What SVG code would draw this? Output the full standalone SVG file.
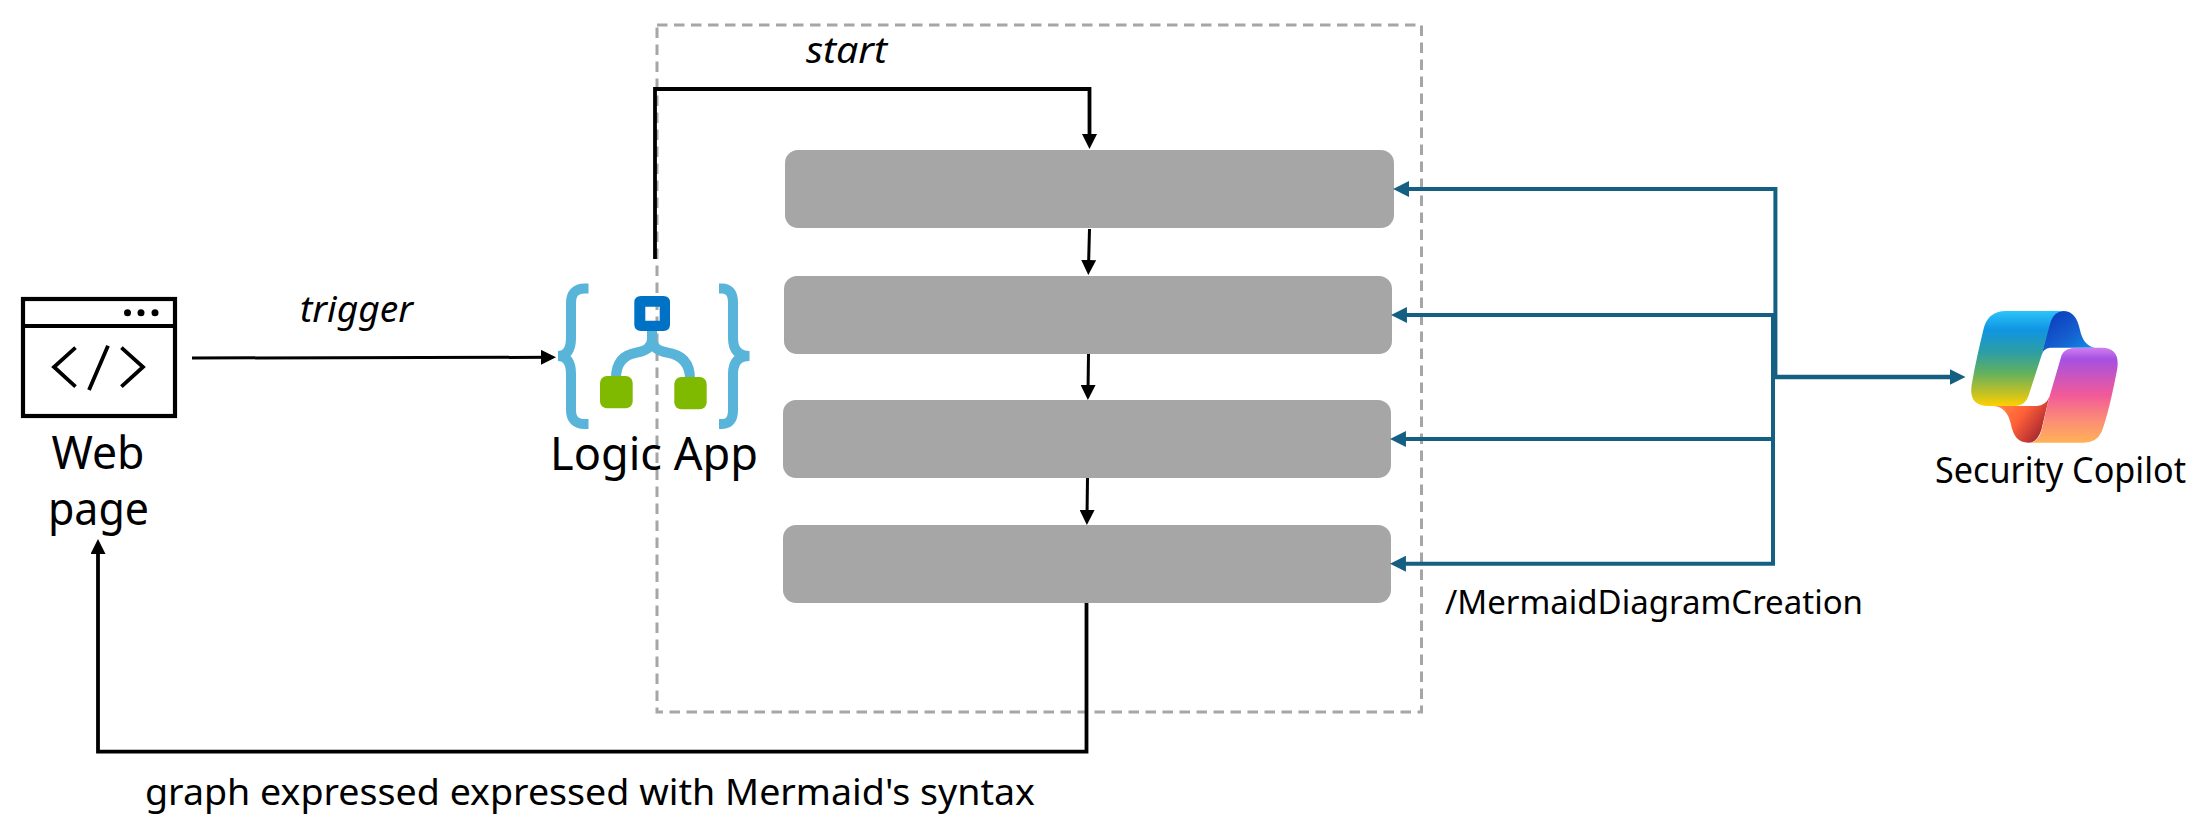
<svg xmlns="http://www.w3.org/2000/svg" width="2204" height="838" viewBox="0 0 2204 838">
<style>
text{font-family:"Noto Sans","Open Sans","Liberation Sans",sans-serif;fill:#000}
.em{font-style:italic}
.step{fill:#a6a6a6}
.frame{fill:none;stroke:#a6a6a6;stroke-width:3;stroke-dasharray:10.500 6.500}
.k{fill:none;stroke:#000}
.b{fill:none;stroke:#156082;stroke-width:4}
.brace{fill:none;stroke:#59b4d9;stroke-width:10}
</style>
<defs>
<marker id="ak" viewBox="0 0 15 15" refX="7" refY="7.5" markerWidth="15" markerHeight="15" markerUnits="userSpaceOnUse" orient="auto"><path d="M0 0L15 7.5L0 15Z" fill="#000"/></marker>
<marker id="ab" viewBox="0 0 15 15" refX="7" refY="7.5" markerWidth="16" markerHeight="16" markerUnits="userSpaceOnUse" orient="auto"><path d="M0 0L15 7.5L0 15Z" fill="#156082"/></marker>
<linearGradient id="gA" x1="0" y1="0" x2="0" y2="1"><stop offset="0" stop-color="#2cc4fa"/><stop offset=".2" stop-color="#0f94e2"/><stop offset=".45" stop-color="#2f9fa0"/><stop offset=".65" stop-color="#62b060"/><stop offset=".85" stop-color="#bcc028"/><stop offset="1" stop-color="#ffd000"/></linearGradient>
<linearGradient id="gB" x1="0" y1="0" x2="0" y2="1"><stop offset="0" stop-color="#cf7ff0"/><stop offset=".12" stop-color="#a650e2"/><stop offset=".5" stop-color="#f25a98"/><stop offset=".75" stop-color="#fb8a78"/><stop offset="1" stop-color="#ffb257"/></linearGradient>
<linearGradient id="gC" x1="0" y1="0" x2="1" y2="1"><stop offset="0" stop-color="#0a34b8"/><stop offset=".55" stop-color="#1560d0"/><stop offset="1" stop-color="#0c9cf0"/></linearGradient>
<linearGradient id="gD" x1="0" y1="0" x2="1" y2=".6"><stop offset="0" stop-color="#ff9a4a"/><stop offset=".55" stop-color="#ff5f38"/><stop offset="1" stop-color="#a82830"/></linearGradient>
</defs>
<rect width="2204" height="838" fill="#fff"/>

<g id="group-frame"><rect class="frame" x="657" y="25" width="764.500" height="687"/></g>

<g id="web-page">
<rect x="23" y="299" width="152" height="117" fill="none" stroke="#000" stroke-width="4.200"/>
<path d="M23 326H175" stroke="#000" stroke-width="3.800" fill="none"/>
<circle cx="127.500" cy="312.700" r="3.500"/><circle cx="141" cy="312.700" r="3.500"/><circle cx="155" cy="312.700" r="3.500"/>
<path d="M75.500 347.700L54 367L75.500 386.700M108 345.700L89 390M121.400 347.700L143 367L121.400 386.700" fill="none" stroke="#000" stroke-width="3.800"/>
<text x="51.500" y="469" font-size="45" lengthAdjust="spacingAndGlyphs" textLength="93">Web</text>
<text x="48" y="525" font-size="45" lengthAdjust="spacingAndGlyphs" textLength="101">page</text>
</g>

<g id="logic-app">
<path class="brace" d="M588.500 288.500H585Q571 288.500 571 303V338Q571 356 558 356Q571 356 571 374V410Q571 424 585 424H588.500"/>
<path class="brace" d="M719 288.500H722Q733 288.500 733 303V338Q733 356 749.500 356Q733 356 733 374V410Q733 424 722 424H719"/>
<path d="M652 328V339Q652 350 637 352.500Q616 356 616 378M652 339Q652 350 667 352.500Q690 356 690 379" fill="none" stroke="#59b4d9" stroke-width="10"/>
<path fill-rule="evenodd" fill="#0072c6" d="M641 296H663.500Q670 296 670 302.500V324.500Q670 331 663.500 331H641Q634.300 331 634.300 324.500V302.500Q634.300 296 641 296ZM645.300 306.700V320.700H659.700V306.700Z"/>
<rect x="600" y="376" width="32.700" height="32.300" rx="7" fill="#7fba00"/>
<rect x="674.300" y="377" width="32.400" height="32.300" rx="7" fill="#7fba00"/>
<text x="550" y="470" font-size="45" lengthAdjust="spacingAndGlyphs" textLength="208">Logic App</text>
</g>

<g id="step-1"><rect class="step" x="785" y="150" width="609" height="78" rx="13"/></g>
<g id="step-2"><rect class="step" x="784" y="276" width="608" height="78" rx="13"/></g>
<g id="step-3"><rect class="step" x="783" y="400" width="608" height="78" rx="13"/></g>
<g id="step-4"><rect class="step" x="783" y="525" width="608" height="78" rx="13"/></g>

<g id="security-copilot">
<g transform="translate(1900 280) scale(.33333)">
<path fill="url(#gC)" d="M488 93C520 93 532 115 540 150C546 178 560 200 585 203L450 203Q430 205 425 225L450 115Q460 93 488 93Z"/>
<path fill="url(#gD)" d="M280 378L410 378Q438 376 448 350L424 450Q412 488 385 488C355 488 340 470 332 430C325 400 310 380 280 378Z"/>
<path fill="url(#gA)" d="M318 93L490 93Q462 95 452 125L425 225L388 340Q378 378 345 378L265 378Q205 378 215 315C225 255 238 200 250 150Q262 93 318 93Z"/>
<path fill="url(#gB)" d="M530 203L605 203Q660 203 652 265C640 330 620 420 605 455Q590 488 550 488L385 488Q415 488 425 450L447 355L485 225Q495 203 530 203Z"/>
</g>
<text x="1935" y="483" font-size="37" lengthAdjust="spacingAndGlyphs" textLength="251">Security Copilot</text>
</g>

<g id="connectors">
<path class="k" stroke-width="3.800" d="M655 259V89H1089.500V141" marker-end="url(#ak)"/>
<path class="k" stroke-width="3" d="M1089.500 229L1088.500 267" marker-end="url(#ak)"/>
<path class="k" stroke-width="3" d="M1088.500 354L1088 392" marker-end="url(#ak)"/>
<path class="k" stroke-width="3" d="M1087.500 478L1087 517" marker-end="url(#ak)"/>
<path class="k" stroke-width="3.800" d="M1086.500 603V751.700H98V547" marker-end="url(#ak)"/>
<path class="k" stroke-width="3" d="M192 358L548 357.300" marker-end="url(#ak)"/>
<path class="b" d="M1775.400 377V189H1401.600" marker-end="url(#ab)"/>
<path class="b" d="M1775 315H1399.500" marker-end="url(#ab)"/>
<path class="b" d="M1773 439H1398.500" marker-end="url(#ab)"/>
<path class="b" d="M1773 315V563.700H1398.500" marker-end="url(#ab)"/>
<path class="b" d="M1773 377H1957" marker-end="url(#ab)" style="stroke-width:4.500"/>
</g>

<g id="labels">
<text class="em" x="300" y="321.700" font-size="37" lengthAdjust="spacingAndGlyphs" textLength="113">trigger</text>
<text class="em" x="806" y="62.700" font-size="37" lengthAdjust="spacingAndGlyphs" textLength="81">start</text>
<text x="1445" y="614" font-size="32" lengthAdjust="spacingAndGlyphs" textLength="418">/MermaidDiagramCreation</text>
<text x="145" y="805" font-size="37" lengthAdjust="spacingAndGlyphs" textLength="890">graph expressed expressed with Mermaid's syntax</text>
</g>
</svg>
